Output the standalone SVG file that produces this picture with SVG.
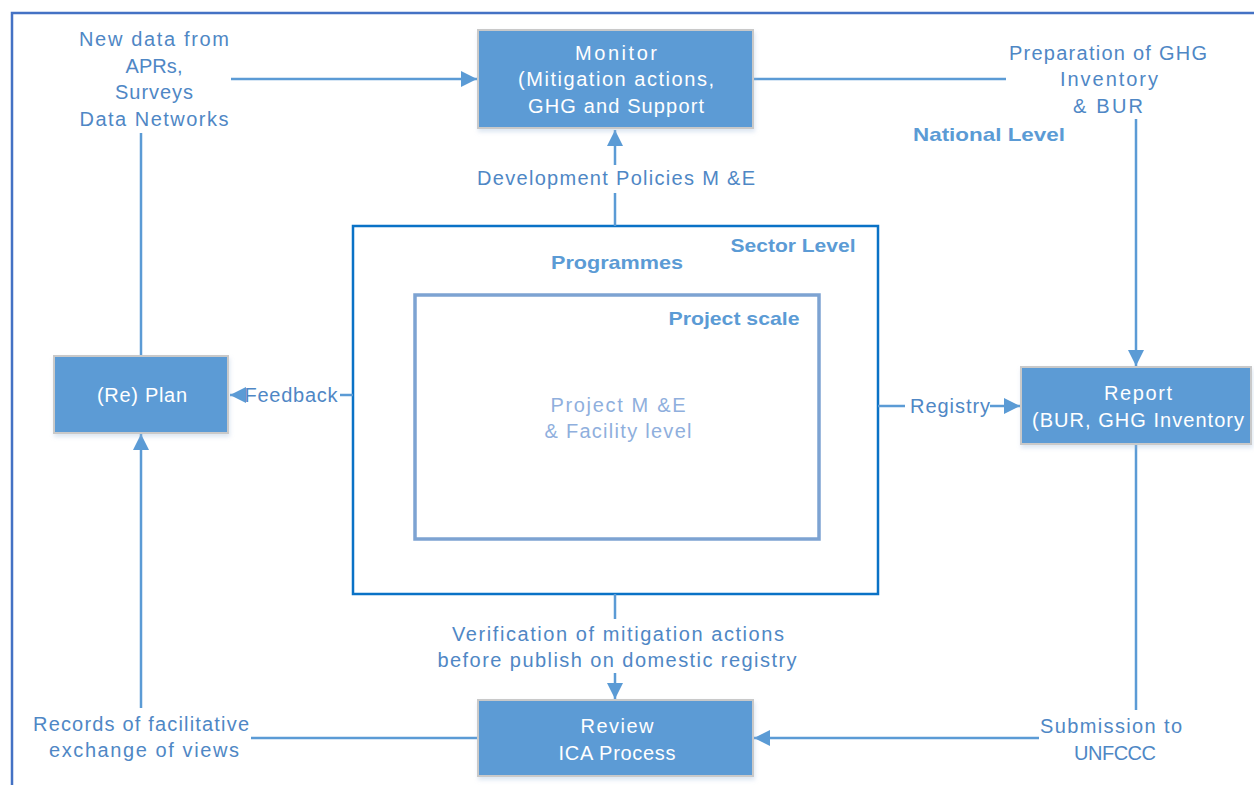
<svg xmlns="http://www.w3.org/2000/svg" width="1254" height="785" viewBox="0 0 1254 785">
  <defs>
    <style>
      .frame { fill: none; stroke: #4472C4; stroke-width: 2.5; }
      .box { fill: #5B9BD5; stroke: #C9C9C9; stroke-width: 2; filter: url(#soft); }
      .sector { fill: none; stroke: #0A72C6; stroke-width: 2.5; }
      .project { fill: none; stroke: #7DA3D2; stroke-width: 3.5; }
      .conn { fill: none; stroke: #5B9BD5; stroke-width: 2.5; }
      .lbl { font-family: "Liberation Sans", Arial, sans-serif; font-size: 20px; fill: #4F87C5; text-anchor: middle; }
      .boxtxt { font-family: "Liberation Sans", Arial, sans-serif; font-size: 20px; fill: #FFFFFF; text-anchor: middle; }
      .lvl { font-family: "Liberation Sans", Arial, sans-serif; font-size: 19px; font-weight: bold; fill: #5B9BD5; text-anchor: middle; }
      .inner { font-family: "Liberation Sans", Arial, sans-serif; font-size: 20px; fill: #8FAFDD; text-anchor: middle; }
    </style>
    <filter id="soft" x="-10%" y="-10%" width="120%" height="130%">
      <feDropShadow dx="1" dy="3" stdDeviation="2" flood-color="#9DB8DA" flood-opacity="0.35"/>
    </filter>
    <marker id="arrow" viewBox="0 0 10 10" refX="10" refY="5" markerWidth="6.4" markerHeight="6.8" markerUnits="strokeWidth" orient="auto">
      <path d="M0,0 L10,5 L0,10 Z" fill="#5B9BD5"/>
    </marker>
  </defs>

  <rect width="1254" height="785" fill="#FFFFFF"/>

  <!-- outer national-level frame -->
  <path class="frame" d="M12,790 L12,13 L1260,13"/>

  <!-- sector level and project scale enclosures -->
  <g id="sector-level">
    <rect class="sector" x="353" y="226" width="525" height="368"/>
    <text class="lvl" x="793" y="252" textLength="125" lengthAdjust="spacingAndGlyphs">Sector Level</text>
    <text class="lvl" x="617" y="269" textLength="132" lengthAdjust="spacingAndGlyphs">Programmes</text>
  </g>
  <g id="project-scale">
    <rect class="project" x="415" y="295" width="404" height="244"/>
    <text class="lvl" x="734" y="325" textLength="131" lengthAdjust="spacingAndGlyphs">Project scale</text>
    <text class="inner" x="618" y="412" textLength="135" lengthAdjust="spacing">Project M &amp;E</text>
    <text class="inner" x="618" y="438" textLength="147" lengthAdjust="spacing">&amp; Facility level</text>
  </g>

  <!-- connectors -->
  <g id="connectors">
    <line class="conn" x1="231" y1="79" x2="477" y2="79" marker-end="url(#arrow)"/>
    <line class="conn" x1="753" y1="79" x2="1006" y2="79"/>
    <line class="conn" x1="1136" y1="119" x2="1136" y2="366" marker-end="url(#arrow)"/>
    <line class="conn" x1="615" y1="193" x2="615" y2="226"/>
    <line class="conn" x1="615" y1="165" x2="615" y2="130" marker-end="url(#arrow)"/>
    <line class="conn" x1="141" y1="133" x2="141" y2="356"/>
    <line class="conn" x1="353" y1="395" x2="340" y2="395"/>
    <line class="conn" x1="245" y1="395" x2="230" y2="395" marker-end="url(#arrow)"/>
    <line class="conn" x1="878" y1="406" x2="905" y2="406"/>
    <line class="conn" x1="990" y1="406" x2="1020" y2="406" marker-end="url(#arrow)"/>
    <line class="conn" x1="615" y1="594" x2="615" y2="619"/>
    <line class="conn" x1="615" y1="673" x2="615" y2="699" marker-end="url(#arrow)"/>
    <line class="conn" x1="478" y1="738" x2="251" y2="738"/>
    <line class="conn" x1="141" y1="708" x2="141" y2="434" marker-end="url(#arrow)"/>
    <line class="conn" x1="1136" y1="444" x2="1136" y2="710"/>
    <line class="conn" x1="1039" y1="738" x2="754" y2="738" marker-end="url(#arrow)"/>
  </g>

  <!-- free-standing labels -->
  <g id="new-data">
    <text class="lbl" x="154" y="46" textLength="150" lengthAdjust="spacing">New data from</text>
    <text class="lbl" x="154" y="73" textLength="57" lengthAdjust="spacing">APRs,</text>
    <text class="lbl" x="154" y="99" textLength="78" lengthAdjust="spacing">Surveys</text>
    <text class="lbl" x="154" y="126" textLength="149" lengthAdjust="spacing">Data Networks</text>
  </g>
  <g id="preparation">
    <text class="lbl" x="1108" y="60" textLength="198" lengthAdjust="spacing">Preparation of GHG</text>
    <text class="lbl" x="1109" y="86" textLength="98" lengthAdjust="spacing">Inventory</text>
    <text class="lbl" x="1108" y="113" textLength="70" lengthAdjust="spacing">&amp;  BUR</text>
  </g>
  <text class="lvl" x="989" y="141" textLength="152" lengthAdjust="spacingAndGlyphs">National  Level</text>
  <text class="lbl" x="616" y="185" textLength="278" lengthAdjust="spacing">Development Policies M &amp;E</text>
  <text class="lbl" x="291" y="402" textLength="93" lengthAdjust="spacing">Feedback</text>
  <text class="lbl" x="950" y="413" textLength="80" lengthAdjust="spacing">Registry</text>
  <g id="verification">
    <text class="lbl" x="618" y="641" textLength="332" lengthAdjust="spacing">Verification of mitigation actions</text>
    <text class="lbl" x="617" y="667" textLength="359" lengthAdjust="spacing">before publish on domestic registry</text>
  </g>
  <g id="records">
    <text class="lbl" x="141" y="731" textLength="216" lengthAdjust="spacing">Records of facilitative</text>
    <text class="lbl" x="144" y="757" textLength="190" lengthAdjust="spacing">exchange  of views</text>
  </g>
  <g id="submission">
    <text class="lbl" x="1111" y="733" textLength="142" lengthAdjust="spacing">Submission to</text>
    <text class="lbl" x="1115" y="760" textLength="82" lengthAdjust="spacing">UNFCCC</text>
  </g>

  <!-- process nodes -->
  <g id="monitor">
    <rect class="box" x="478" y="30" width="275" height="98"/>
    <text class="boxtxt" x="616" y="60" textLength="82" lengthAdjust="spacing">Monitor</text>
    <text class="boxtxt" x="616" y="86" textLength="196" lengthAdjust="spacing">(Mitigation actions,</text>
    <text class="boxtxt" x="616" y="113" textLength="176" lengthAdjust="spacing">GHG and Support</text>
  </g>
  <g id="plan">
    <rect class="box" x="54" y="356" width="174" height="77"/>
    <text class="boxtxt" x="142" y="402" textLength="90" lengthAdjust="spacing">(Re) Plan</text>
  </g>
  <g id="report">
    <rect class="box" x="1021" y="367" width="230" height="77"/>
    <text class="boxtxt" x="1138" y="400" textLength="68" lengthAdjust="spacing">Report</text>
    <text class="boxtxt" x="1138" y="427" textLength="212" lengthAdjust="spacing">(BUR, GHG Inventory</text>
  </g>
  <g id="review">
    <rect class="box" x="478" y="700" width="275" height="76"/>
    <text class="boxtxt" x="617" y="733" textLength="73" lengthAdjust="spacing">Review</text>
    <text class="boxtxt" x="617" y="760" textLength="117" lengthAdjust="spacing">ICA Process</text>
  </g>
</svg>
